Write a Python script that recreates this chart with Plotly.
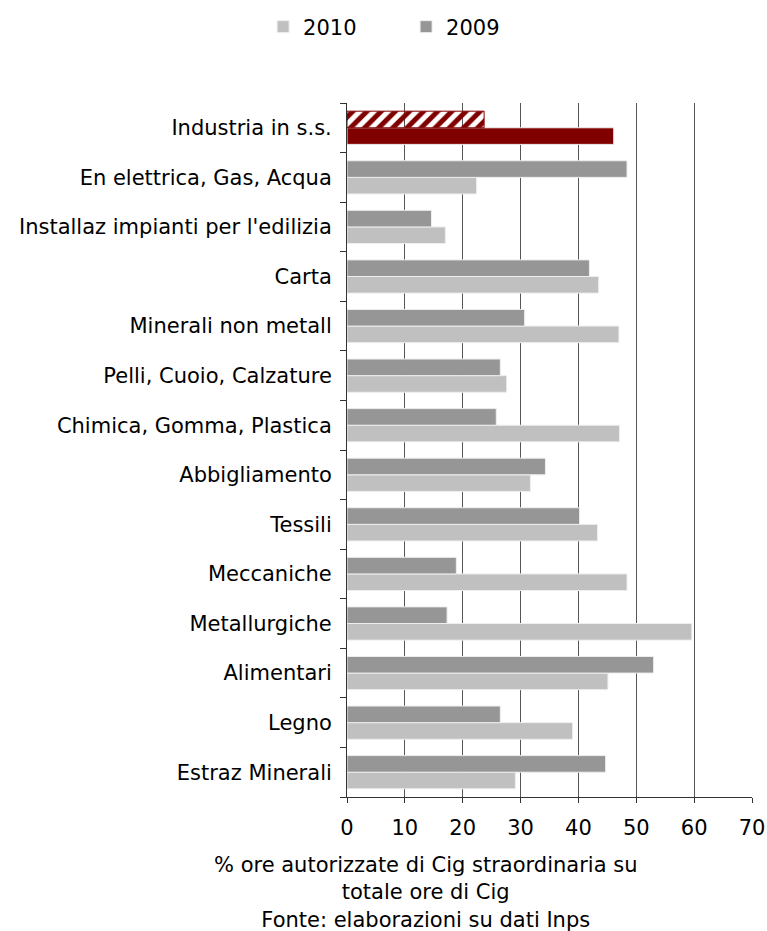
import plotly.graph_objects as go

categories = ["Estraz Minerali", "Legno", "Alimentari", "Metallurgiche", "Meccaniche",
              "Tessili", "Abbigliamento", "Chimica, Gomma, Plastica",
              "Pelli, Cuoio, Calzature", "Minerali non metall", "Carta",
              "Installaz impianti per l'edilizia", "En elettrica, Gas, Acqua",
              "Industria in s.s."]
v2010 = [29.1, 39.0, 45.1, 59.6, 48.4, 43.3, 31.7, 47.1, 27.6, 47.0, 43.5, 17.0, 22.4, 46.1]
v2009 = [44.7, 26.5, 53.0, 17.3, 18.9, 40.2, 34.3, 25.8, 26.5, 30.7, 41.9, 14.6, 48.4, 23.7]

n = len(categories)
c2010 = ["#c0c0c0"] * (n - 1) + ["#800000"]
c2009 = ["#969696"] * (n - 1) + ["#800000"]
p2009 = [""] * (n - 1) + ["/"]

FS = 21

fig = go.Figure()
fig.add_trace(go.Bar(
    y=categories, x=v2010, orientation="h", name="2010",
    marker=dict(color=c2010, line=dict(color="#eeeeee", width=1)),
))
fig.add_trace(go.Bar(
    y=categories, x=v2009, orientation="h", name="2009",
    marker=dict(color=c2009, line=dict(color=["#eeeeee"] * (n - 1) + ["#800000"], width=1),
                pattern=dict(shape=p2009, fgcolor="#ffffff", bgcolor="#800000",
                             size=10, solidity=0.5, fillmode="replace")),
))

fig.update_layout(
    width=767, height=931,
    barmode="group", bargap=0.33, bargroupgap=0,
    paper_bgcolor="white", plot_bgcolor="white",
    font=dict(family="DejaVu Sans, Verdana, sans-serif", size=FS, color="#000000"),
    margin=dict(l=347, r=15, t=103, b=134, autoexpand=False),
    showlegend=True,
    legend=dict(orientation="h", xref="container", x=0.343, xanchor="left", yref="container",
                y=0.971, yanchor="middle", font=dict(size=FS),
                traceorder="normal", entrywidth=98),
    xaxis=dict(range=[0, 70], dtick=10, showgrid=True, gridcolor="#555555", gridwidth=1,
               ticks="outside", ticklen=5, tickcolor="#333333", automargin=False,
               showline=True, linecolor="#333333", linewidth=1, zeroline=False,
               tickfont=dict(size=FS), ticklabelstandoff=7),
    yaxis=dict(showgrid=False, ticks="outside", ticklen=6, tickcolor="#333333",
               tickson="boundaries", showline=True, linecolor="#333333", linewidth=1,
               tickfont=dict(size=FS), automargin=False, ticklabelstandoff=10),
)

fig.add_annotation(
    x=0.193, xref="paper", xanchor="center", y=-0.0775, yref="paper", yanchor="top",
    text="% ore autorizzate di Cig straordinaria su<br>totale ore di Cig<br>Fonte: elaborazioni su dati Inps",
    showarrow=False, font=dict(size=FS), align="center",
)

fig.write_html("out.html", config={"displayModeBar": False},
               post_script="document.body.style.margin='0';document.body.style.overflow='hidden';")
